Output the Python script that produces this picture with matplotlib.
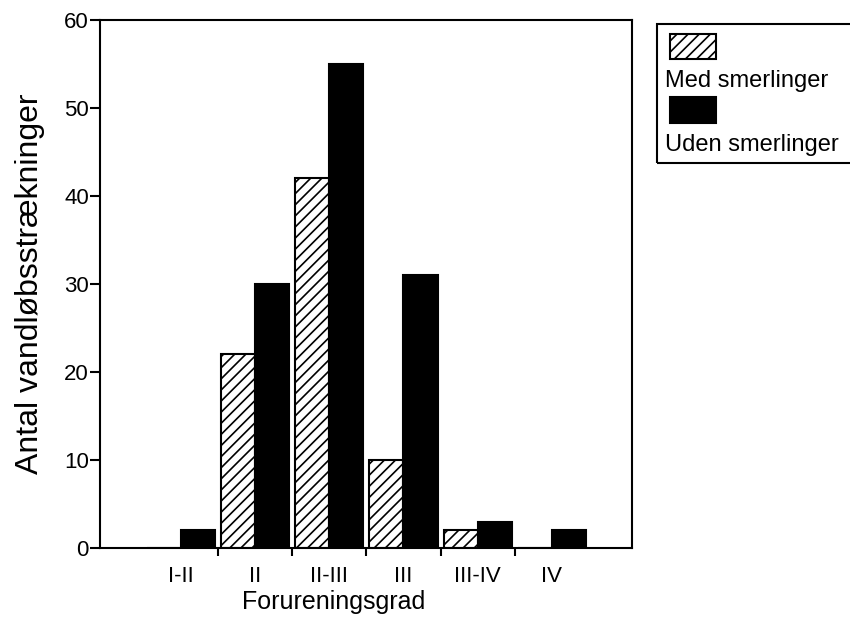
import numpy as np
import matplotlib
matplotlib.use('Agg')
import matplotlib.pyplot as plt
from matplotlib.patches import Rectangle

plt.rcParams['font.family'] = ['Liberation Sans', 'DejaVu Sans']
plt.rcParams['hatch.linewidth'] = 1.2

categories = ['I-II', 'II', 'II-III', 'III', 'III-IV', 'IV']
med = [0, 22, 42, 10, 2, 0]
uden = [2, 30, 55, 31, 3, 2]

W, H = 850, 622
fig = plt.figure(figsize=(W / 100, H / 100), dpi=100)
ax = fig.add_axes([100 / W, 1 - 548 / H, 532 / W, 528 / H])

x = np.arange(len(categories))
bw = 0.46
ax.bar(x - bw / 2, med, bw, color='white', edgecolor='black', hatch='///', linewidth=1.5)
ax.bar(x + bw / 2, uden, bw, color='black', edgecolor='black', linewidth=1.5)

ax.set_xlim(-1.09, 6.08)
ax.set_ylim(0, 60)
ax.set_yticks(range(0, 61, 10))
ax.set_xticks(x)
ax.set_xticklabels(categories)
ax.set_xticks(x[:-1] + 0.5, minor=True)
ax.tick_params(axis='x', which='major', length=0, pad=13, labelsize=16)
ax.tick_params(axis='x', which='minor', length=6, width=1.5, direction='out')
ax.tick_params(axis='y', length=7, width=1.5, direction='out', labelsize=16, pad=1)
for s in ax.spines.values():
    s.set_linewidth(1.5)

ax.set_xlabel('Forureningsgrad', fontsize=18)
ax.xaxis.set_label_coords(0.44, -0.08)
ax.set_ylabel('Antal vandløbsstrækninger', fontsize=23, labelpad=14)


def fx(px):
    return px / W


def fy(py):
    return 1 - py / H


# legend drawn by hand: patch above each label
fig.patches.append(Rectangle((fx(657), fy(163)), fx(900) - fx(657), fy(24) - fy(163),
                             transform=fig.transFigure, facecolor='none',
                             edgecolor='black', linewidth=1.5))
fig.patches.append(Rectangle((fx(670), fy(59)), fx(716) - fx(670), fy(34) - fy(59),
                             transform=fig.transFigure, facecolor='white',
                             edgecolor='black', hatch='///', linewidth=1.5))
fig.patches.append(Rectangle((fx(670), fy(123)), fx(716) - fx(670), fy(97) - fy(123),
                             transform=fig.transFigure, facecolor='black',
                             edgecolor='black', linewidth=1.5))
fig.text(fx(665), fy(87), 'Med smerlinger', fontsize=17, va='baseline')
fig.text(fx(665), fy(151), 'Uden smerlinger', fontsize=17, va='baseline')

fig.savefig('out.png', dpi=100)
